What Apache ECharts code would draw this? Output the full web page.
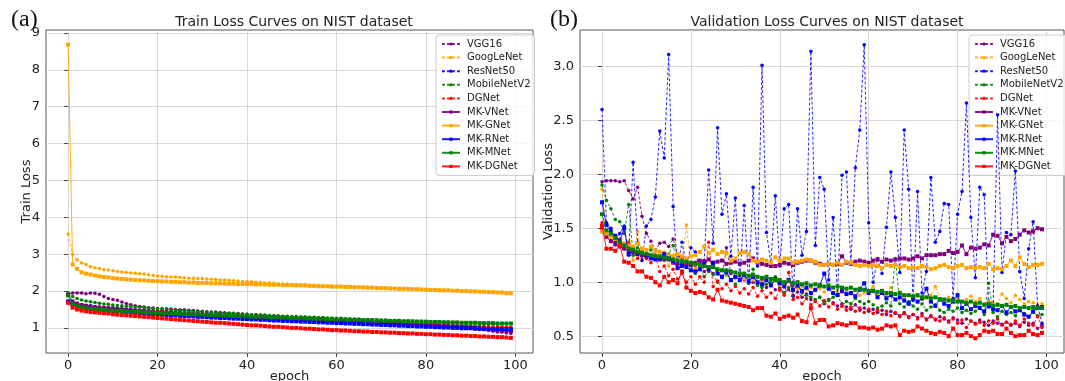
<!DOCTYPE html>
<html>
<head>
<meta charset="utf-8">
<script src="https://cdn.jsdelivr.net/npm/echarts@6/dist/echarts.min.js"></script>
<style>
  html, body { margin: 0; padding: 0; background: #fff; }
  #chart { width: 1065px; height: 381px; }
</style>
</head>
<body>
<div id="chart"></div>
<script>
const seriesNames = ['VGG16', 'GoogLeNet', 'ResNet50', 'MobileNetV2', 'DGNet',
  'MK-VNet', 'MK-GNet', 'MK-RNet', 'MK-MNet', 'MK-DGNet'];
const seriesColors = ['#800080', '#FFA500', '#0000FF', '#008000', '#FF0000',
  '#800080', '#FFA500', '#0000FF', '#008000', '#FF0000'];
const epochs = Array.from({ length: 100 }, (_, i) => i);
const xTicks = [0, 20, 40, 60, 80, 100];
const trainTicks = [1, 2, 3, 4, 5, 6, 7, 8, 9];
const valTicks = [0.5, 1.0, 1.5, 2.0, 2.5, 3.0];

// ---- train loss ----
const trainVGG16 = [
  1.92,1.95,1.95,1.95,1.93,1.95,1.94,1.91,1.85,1.80,
  1.77,1.75,1.70,1.66,1.63,1.60,1.58,1.57,1.55,1.54,
  1.53,1.52,1.52,1.51,1.50,1.49,1.49,1.48,1.47,1.46,
  1.45,1.44,1.43,1.43,1.42,1.41,1.40,1.40,1.39,1.38,
  1.37,1.36,1.36,1.35,1.34,1.33,1.33,1.32,1.31,1.30,
  1.30,1.29,1.28,1.28,1.27,1.26,1.26,1.25,1.24,1.24,
  1.23,1.22,1.22,1.21,1.20,1.20,1.19,1.18,1.18,1.17,
  1.16,1.16,1.15,1.14,1.13,1.13,1.12,1.11,1.10,1.10,
  1.09,1.08,1.07,1.06,1.05,1.04,1.03,1.02,1.01,1.00,
  0.99,0.97,0.96,0.95,0.93,0.91,0.89,0.88,0.86,0.85];
const trainGoogLeNet = [
  3.55,3.00,2.85,2.76,2.72,2.66,2.63,2.61,2.58,2.57,
  2.55,2.53,2.52,2.50,2.49,2.48,2.47,2.46,2.44,2.42,
  2.41,2.40,2.39,2.38,2.38,2.37,2.36,2.35,2.35,2.34,
  2.34,2.33,2.32,2.31,2.30,2.30,2.29,2.28,2.27,2.26,
  2.26,2.25,2.24,2.23,2.22,2.22,2.21,2.20,2.19,2.19,
  2.18,2.18,2.17,2.17,2.16,2.16,2.15,2.15,2.14,2.14,
  2.13,2.13,2.12,2.12,2.11,2.11,2.10,2.10,2.10,2.09,
  2.09,2.08,2.08,2.07,2.07,2.06,2.06,2.05,2.05,2.05,
  2.04,2.04,2.03,2.03,2.02,2.02,2.01,2.01,2.00,2.00,
  2.00,1.99,1.99,1.98,1.98,1.97,1.97,1.96,1.96,1.95];
const trainResNet50 = [
  1.72,1.70,1.66,1.63,1.61,1.60,1.58,1.57,1.56,1.55,
  1.54,1.53,1.52,1.51,1.50,1.49,1.48,1.47,1.46,1.45,
  1.44,1.43,1.43,1.42,1.41,1.40,1.40,1.39,1.38,1.38,
  1.37,1.36,1.36,1.35,1.34,1.34,1.33,1.32,1.32,1.31,
  1.31,1.30,1.29,1.29,1.28,1.28,1.27,1.27,1.26,1.26,
  1.25,1.24,1.24,1.23,1.23,1.22,1.22,1.21,1.21,1.20,
  1.20,1.19,1.19,1.18,1.18,1.17,1.17,1.16,1.16,1.15,
  1.15,1.14,1.14,1.13,1.13,1.12,1.12,1.11,1.11,1.10,
  1.10,1.09,1.09,1.08,1.08,1.07,1.07,1.06,1.06,1.05,
  1.05,1.04,1.04,1.03,1.03,1.02,1.02,1.01,1.01,1.00];
const trainMobileNetV2 = [
  1.95,1.85,1.80,1.76,1.73,1.71,1.69,1.67,1.65,1.64,
  1.62,1.61,1.60,1.59,1.58,1.57,1.56,1.55,1.54,1.53,
  1.52,1.51,1.50,1.49,1.48,1.48,1.47,1.46,1.45,1.45,
  1.44,1.43,1.42,1.42,1.41,1.40,1.40,1.39,1.38,1.38,
  1.37,1.36,1.36,1.35,1.35,1.34,1.33,1.33,1.32,1.32,
  1.31,1.31,1.30,1.30,1.29,1.29,1.28,1.28,1.27,1.27,
  1.26,1.26,1.25,1.25,1.24,1.24,1.23,1.23,1.22,1.22,
  1.21,1.21,1.20,1.20,1.20,1.19,1.19,1.18,1.18,1.18,
  1.17,1.17,1.17,1.16,1.16,1.16,1.15,1.15,1.15,1.14,
  1.14,1.14,1.13,1.13,1.13,1.13,1.12,1.12,1.12,1.12];
const trainDGNet = [
  1.70,1.66,1.62,1.59,1.57,1.55,1.54,1.53,1.52,1.51,
  1.50,1.49,1.48,1.47,1.46,1.45,1.44,1.43,1.43,1.42,
  1.41,1.40,1.39,1.39,1.38,1.37,1.36,1.36,1.35,1.34,
  1.34,1.33,1.32,1.32,1.31,1.30,1.30,1.29,1.28,1.28,
  1.27,1.27,1.26,1.25,1.25,1.24,1.24,1.23,1.23,1.22,
  1.22,1.21,1.21,1.20,1.20,1.19,1.19,1.18,1.18,1.17,
  1.17,1.16,1.16,1.15,1.15,1.14,1.14,1.14,1.13,1.13,
  1.12,1.12,1.11,1.11,1.11,1.10,1.10,1.09,1.09,1.09,
  1.08,1.08,1.07,1.07,1.07,1.06,1.06,1.06,1.05,1.05,
  1.05,1.04,1.04,1.04,1.03,1.03,1.03,1.02,1.02,1.02];
const trainMKVNet = [
  1.90,1.72,1.66,1.62,1.60,1.58,1.56,1.55,1.54,1.53,
  1.52,1.51,1.50,1.49,1.48,1.47,1.46,1.46,1.45,1.44,
  1.43,1.43,1.42,1.41,1.40,1.40,1.39,1.38,1.38,1.37,
  1.36,1.36,1.35,1.34,1.34,1.33,1.32,1.32,1.31,1.31,
  1.30,1.29,1.29,1.28,1.28,1.27,1.26,1.26,1.25,1.25,
  1.24,1.24,1.23,1.23,1.22,1.22,1.21,1.21,1.20,1.20,
  1.19,1.19,1.18,1.18,1.17,1.17,1.16,1.16,1.15,1.15,
  1.14,1.14,1.13,1.13,1.12,1.12,1.11,1.10,1.10,1.09,
  1.09,1.08,1.07,1.07,1.06,1.05,1.04,1.03,1.02,1.01,
  1.00,0.99,0.98,0.97,0.96,0.95,0.94,0.93,0.92,0.91];
const trainMKGNet = [
  8.68,2.72,2.60,2.51,2.47,2.45,2.42,2.40,2.38,2.37,
  2.35,2.34,2.33,2.32,2.31,2.30,2.29,2.29,2.28,2.27,
  2.27,2.26,2.26,2.25,2.25,2.24,2.24,2.23,2.23,2.22,
  2.22,2.22,2.21,2.21,2.21,2.20,2.20,2.20,2.19,2.19,
  2.19,2.19,2.18,2.18,2.18,2.17,2.17,2.17,2.16,2.16,
  2.16,2.15,2.15,2.15,2.14,2.14,2.13,2.13,2.13,2.12,
  2.12,2.12,2.11,2.11,2.10,2.10,2.10,2.09,2.09,2.08,
  2.08,2.08,2.07,2.07,2.06,2.06,2.06,2.05,2.05,2.04,
  2.04,2.03,2.03,2.02,2.02,2.02,2.01,2.01,2.00,2.00,
  1.99,1.99,1.98,1.98,1.97,1.97,1.96,1.96,1.94,1.94];
const trainMKRNet = [
  1.72,1.62,1.58,1.55,1.53,1.51,1.50,1.49,1.48,1.47,
  1.46,1.45,1.44,1.43,1.42,1.41,1.40,1.39,1.38,1.37,
  1.37,1.36,1.35,1.34,1.34,1.33,1.32,1.32,1.31,1.30,
  1.30,1.29,1.28,1.28,1.27,1.27,1.26,1.25,1.25,1.24,
  1.24,1.23,1.23,1.22,1.22,1.21,1.20,1.20,1.19,1.19,
  1.18,1.18,1.17,1.17,1.16,1.16,1.15,1.15,1.14,1.14,
  1.13,1.13,1.12,1.12,1.11,1.11,1.10,1.10,1.09,1.09,
  1.08,1.08,1.07,1.07,1.06,1.06,1.05,1.05,1.04,1.04,
  1.03,1.03,1.02,1.02,1.01,1.01,1.00,1.00,0.99,0.99,
  0.99,0.98,0.98,0.98,0.97,0.97,0.97,0.96,0.96,0.96];
const trainMKMNet = [
  1.88,1.65,1.59,1.56,1.54,1.52,1.51,1.50,1.49,1.48,
  1.47,1.46,1.46,1.45,1.44,1.44,1.43,1.42,1.42,1.41,
  1.41,1.40,1.40,1.39,1.39,1.38,1.38,1.37,1.37,1.36,
  1.36,1.35,1.35,1.34,1.34,1.33,1.33,1.33,1.32,1.32,
  1.31,1.31,1.30,1.30,1.30,1.29,1.29,1.28,1.28,1.28,
  1.27,1.27,1.26,1.26,1.26,1.25,1.25,1.25,1.24,1.24,
  1.23,1.23,1.23,1.22,1.22,1.22,1.21,1.21,1.21,1.20,
  1.20,1.20,1.19,1.19,1.19,1.18,1.18,1.18,1.17,1.17,
  1.17,1.16,1.16,1.16,1.15,1.15,1.15,1.15,1.14,1.14,
  1.14,1.14,1.13,1.13,1.13,1.13,1.12,1.12,1.12,1.12];
const trainMKDGNet = [
  1.68,1.55,1.50,1.47,1.45,1.43,1.42,1.41,1.40,1.39,
  1.37,1.36,1.35,1.34,1.33,1.32,1.31,1.30,1.29,1.28,
  1.27,1.26,1.25,1.24,1.23,1.22,1.21,1.20,1.19,1.18,
  1.17,1.16,1.15,1.14,1.14,1.13,1.12,1.11,1.10,1.09,
  1.08,1.07,1.07,1.06,1.05,1.04,1.03,1.03,1.02,1.01,
  1.00,1.00,0.99,0.98,0.98,0.97,0.96,0.96,0.95,0.94,
  0.94,0.93,0.93,0.92,0.91,0.91,0.90,0.90,0.89,0.89,
  0.88,0.88,0.87,0.87,0.86,0.86,0.85,0.85,0.84,0.84,
  0.83,0.83,0.82,0.82,0.81,0.81,0.80,0.80,0.79,0.79,
  0.78,0.78,0.77,0.77,0.76,0.76,0.75,0.75,0.74,0.73];

// ---- validation loss ----
const valVGG16 = [
  1.93,1.94,1.94,1.94,1.93,1.94,1.85,1.77,1.88,1.61,
  1.45,1.38,1.30,1.36,1.37,1.33,1.40,1.25,1.22,1.20,
  1.18,1.14,1.19,1.10,1.13,1.08,1.11,1.05,1.32,1.08,
  1.04,1.06,1.02,1.05,1.00,0.98,1.02,0.95,0.97,0.93,
  0.95,0.90,0.93,0.88,0.91,0.86,0.89,0.84,0.83,0.86,
  0.80,0.84,0.81,0.78,0.80,0.77,0.75,0.79,0.74,0.76,
  0.73,0.75,0.72,0.74,0.70,0.73,0.71,0.69,0.72,0.68,
  0.70,0.67,0.71,0.66,0.69,0.65,0.68,0.66,0.64,0.67,
  0.65,0.62,0.66,0.64,0.62,0.65,0.63,0.60,0.64,0.62,
  0.61,0.63,0.60,0.62,0.59,0.63,0.60,0.62,0.57,0.60];
const valGoogLeNet = [
  1.86,1.45,1.40,1.37,1.45,1.35,1.38,1.20,1.47,1.22,
  1.28,1.25,1.30,1.22,1.28,1.15,1.25,1.22,1.18,1.53,
  1.15,1.13,1.20,1.18,1.12,1.15,1.08,1.12,1.06,1.10,
  1.05,1.08,1.03,1.06,1.02,1.04,1.00,1.03,0.98,1.01,
  0.97,0.99,0.95,0.97,0.94,0.96,0.93,0.95,0.92,0.94,
  0.91,0.93,0.90,0.92,0.90,0.91,0.89,0.92,0.88,0.90,
  0.92,0.96,0.88,0.90,0.87,0.95,0.89,0.91,0.86,0.88,
  0.85,0.87,0.84,0.86,0.88,0.96,0.85,0.83,0.86,0.84,
  0.85,0.82,0.84,0.87,0.82,0.85,0.80,0.83,0.81,0.80,
  0.89,0.85,0.81,0.88,0.84,0.80,0.82,0.81,0.79,0.80];
const valResNet50 = [
  2.60,1.55,1.50,1.38,1.45,1.52,1.25,2.11,1.37,1.20,
  1.52,1.58,1.79,2.40,2.15,3.11,1.70,1.13,1.37,1.16,
  1.32,1.28,1.12,1.20,2.04,1.36,2.43,1.63,1.82,1.24,
  1.78,1.02,1.71,0.99,1.88,1.15,3.01,1.46,1.18,1.80,
  1.15,1.68,1.72,0.87,1.68,1.25,1.47,3.14,1.34,1.97,
  1.86,1.02,1.60,0.88,1.99,2.02,1.17,2.06,2.41,3.20,
  1.55,1.00,1.22,1.08,1.51,2.02,1.60,1.09,2.41,1.86,
  0.83,1.84,0.90,1.10,1.97,1.37,1.47,1.73,1.72,0.85,
  1.63,1.84,2.66,1.60,1.04,1.88,1.81,0.77,0.76,2.55,
  1.09,1.46,1.44,2.03,1.10,0.85,1.31,1.56,0.78,0.62];
const valMobileNetV2 = [
  1.90,1.76,1.68,1.58,1.56,1.45,1.72,1.25,1.32,1.28,
  1.22,1.30,1.25,1.22,1.20,1.26,1.34,1.18,1.15,1.20,
  1.15,1.08,1.12,1.05,1.10,1.07,1.00,1.04,1.08,1.02,
  0.98,1.03,1.06,1.00,1.12,0.97,0.95,0.98,1.00,1.05,
  0.93,0.90,0.95,0.92,0.97,0.90,0.88,0.86,0.84,0.86,
  0.81,0.83,0.86,0.89,0.78,0.82,0.80,0.85,0.82,0.80,
  0.82,0.79,0.76,0.78,0.81,0.78,1.22,0.80,0.77,0.82,
  0.78,0.75,0.80,0.74,0.77,0.79,0.74,0.72,0.75,0.73,
  0.76,0.72,0.74,0.71,0.73,0.77,0.70,0.99,0.72,0.68,
  0.73,0.70,0.72,0.69,0.74,0.71,0.68,0.72,0.69,0.70];
const valDGNet = [
  1.55,1.42,1.38,1.35,1.40,1.33,1.36,1.28,1.22,1.30,
  1.22,1.18,1.25,1.10,1.15,1.06,1.12,1.03,1.08,1.00,
  1.05,0.98,1.05,1.00,1.37,0.96,1.01,0.94,0.98,0.92,
  0.96,0.90,0.94,0.89,0.95,0.87,0.92,0.86,0.90,0.85,
  0.93,0.88,1.09,0.84,0.86,0.80,0.85,0.79,0.82,0.78,
  0.83,0.77,0.80,0.75,0.78,0.74,0.77,0.73,0.76,0.72,
  0.75,0.71,0.74,0.70,0.73,0.69,0.72,0.68,0.71,0.67,
  0.70,0.66,0.69,0.65,0.68,0.66,0.64,0.67,0.63,0.66,
  0.62,0.65,0.58,0.64,0.61,0.63,0.60,0.64,0.62,0.66,
  0.60,0.63,0.61,0.64,0.60,0.66,0.62,0.60,0.68,0.58];
const valMKVNet = [
  1.48,1.42,1.38,1.35,1.33,1.31,1.29,1.28,1.27,1.25,
  1.24,1.23,1.22,1.21,1.22,1.21,1.18,1.17,1.16,1.17,
  1.16,1.18,1.20,1.19,1.21,1.18,1.19,1.20,1.17,1.18,
  1.19,1.17,1.18,1.20,1.22,1.18,1.17,1.16,1.15,1.15,
  1.16,1.18,1.17,1.16,1.18,1.19,1.20,1.20,1.18,1.17,
  1.16,1.17,1.16,1.17,1.24,1.18,1.17,1.19,1.20,1.19,
  1.18,1.20,1.21,1.19,1.21,1.20,1.21,1.22,1.22,1.21,
  1.22,1.24,1.22,1.25,1.25,1.25,1.26,1.26,1.29,1.27,
  1.28,1.34,1.26,1.32,1.31,1.32,1.35,1.34,1.44,1.43,
  1.36,1.42,1.38,1.40,1.44,1.48,1.46,1.47,1.50,1.49];
const valMKGNet = [
  1.47,1.45,1.43,1.40,1.38,1.36,1.34,1.33,1.36,1.31,
  1.30,1.33,1.29,1.28,1.27,1.25,1.24,1.26,1.24,1.22,
  1.24,1.25,1.28,1.33,1.27,1.30,1.26,1.28,1.27,1.20,
  1.22,1.27,1.28,1.26,1.20,1.19,1.21,1.20,1.18,1.23,
  1.20,1.22,1.22,1.18,1.19,1.20,1.21,1.20,1.19,1.16,
  1.16,1.17,1.16,1.18,1.16,1.19,1.18,1.16,1.15,1.16,
  1.15,1.16,1.15,1.13,1.16,1.15,1.16,1.14,1.15,1.13,
  1.14,1.13,1.15,1.14,1.12,1.13,1.15,1.16,1.14,1.13,
  1.15,1.16,1.13,1.14,1.13,1.14,1.13,1.17,1.12,1.13,
  1.12,1.15,1.20,1.15,1.23,1.17,1.14,1.16,1.16,1.17];
const valMKRNet = [
  1.74,1.53,1.47,1.43,1.38,1.50,1.26,1.30,1.26,1.27,
  1.25,1.22,1.21,1.22,1.26,1.22,1.20,1.13,1.15,1.14,
  1.11,1.10,1.12,1.17,1.12,1.18,1.08,1.05,1.10,1.02,
  1.05,1.02,1.07,1.01,1.05,1.00,0.98,1.02,0.97,1.03,
  0.99,0.96,1.02,0.93,0.97,0.92,0.95,0.90,0.93,0.97,
  1.08,0.94,0.90,0.88,0.92,0.89,0.90,0.87,0.93,0.99,
  0.90,0.92,0.86,0.90,0.85,0.88,0.84,0.86,0.83,0.80,
  0.86,0.82,0.85,0.94,0.82,0.78,0.84,0.80,0.78,0.82,
  0.88,0.76,0.80,0.75,0.78,0.76,0.73,0.79,0.75,0.74,
  0.78,0.72,0.77,0.73,0.74,0.70,0.68,0.73,0.76,0.77];
const valMKMNet = [
  1.63,1.48,1.45,1.41,1.37,1.34,1.31,1.30,1.28,1.27,
  1.26,1.25,1.24,1.24,1.23,1.22,1.21,1.20,1.19,1.19,
  1.18,1.17,1.16,1.15,1.14,1.14,1.12,1.11,1.11,1.10,
  1.09,1.08,1.08,1.06,1.07,1.05,1.04,1.05,1.03,1.02,
  1.02,1.00,1.01,0.99,1.00,0.98,0.99,0.97,0.98,0.97,
  0.96,0.97,0.95,0.96,0.95,0.94,0.95,0.93,0.94,0.93,
  0.92,0.92,0.91,0.92,0.90,0.90,0.89,0.90,0.88,0.88,
  0.87,0.88,0.86,0.86,0.85,0.86,0.84,0.84,0.83,0.83,
  0.82,0.82,0.81,0.82,0.80,0.81,0.79,0.80,0.78,0.79,
  0.78,0.79,0.77,0.78,0.76,0.77,0.76,0.77,0.76,0.76];
const valMKDGNet = [
  1.52,1.31,1.31,1.29,1.34,1.19,1.18,1.15,1.10,1.10,
  1.05,1.04,1.00,0.97,1.05,1.00,1.02,0.99,1.10,0.95,
  0.92,0.90,0.91,0.90,0.86,0.84,0.93,0.83,0.82,0.81,
  0.80,0.79,0.78,0.77,0.74,0.76,0.76,0.69,0.68,0.71,
  0.66,0.68,0.69,0.67,0.70,0.64,0.63,0.76,0.62,0.65,
  0.65,0.59,0.60,0.62,0.61,0.60,0.62,0.62,0.58,0.58,
  0.57,0.58,0.56,0.57,0.60,0.59,0.60,0.51,0.55,0.54,
  0.55,0.59,0.57,0.55,0.53,0.52,0.54,0.53,0.50,0.57,
  0.51,0.51,0.53,0.50,0.48,0.51,0.55,0.54,0.55,0.52,
  0.52,0.57,0.53,0.50,0.51,0.51,0.55,0.52,0.51,0.53];

const trainData = [trainVGG16, trainGoogLeNet, trainResNet50, trainMobileNetV2, trainDGNet,
  trainMKVNet, trainMKGNet, trainMKRNet, trainMKMNet, trainMKDGNet];
const valData = [valVGG16, valGoogLeNet, valResNet50, valMobileNetV2, valDGNet,
  valMKVNet, valMKGNet, valMKRNet, valMKMNet, valMKDGNet];

const FONT = 'DejaVu Sans';

function buildSeries(values, idx, gridIdx) {
  const dashed = idx < 5;
  return {
    name: seriesNames[idx],
    type: 'line',
    xAxisIndex: gridIdx,
    yAxisIndex: gridIdx,
    data: values.map((v, i) => [epochs[i], v]),
    symbol: dashed ? 'circle' : 'rect',
    symbolSize: dashed ? 3.5 : 4,
    showSymbol: true,
    color: seriesColors[idx],
    lineStyle: { width: 1, type: dashed ? [3, 2] : 'solid', opacity: dashed ? 0.85 : 0.9 },
    itemStyle: { color: seriesColors[idx] },
    emphasis: { disabled: true },
    z: 2 + idx
  };
}

function xAxis(gridIdx) {
  return {
    type: 'value',
    gridIndex: gridIdx,
    min: -4.95,
    max: 103.95,
    name: 'epoch',
    nameLocation: 'middle',
    nameGap: 17,
    nameMoveOverlap: false,
    nameTextStyle: { fontFamily: FONT, fontSize: 13, color: '#222' },
    axisLine: { show: false },
    axisTick: { show: true, length: 4, inside: false, customValues: xTicks, lineStyle: { color: '#444' } },
    axisLabel: { customValues: xTicks, fontFamily: FONT, fontSize: 13, color: '#222', margin: 6 },
    splitLine: { show: true, lineStyle: { color: '#d8d8d8', width: 1 } }
  };
}

function yAxis(gridIdx, min, max, ticks, name, gap, fmt) {
  return {
    type: 'value',
    gridIndex: gridIdx,
    min: min,
    max: max,
    name: name,
    nameLocation: 'middle',
    nameGap: gap,
    nameMoveOverlap: false,
    nameTextStyle: { fontFamily: FONT, fontSize: 13, color: '#222' },
    axisLine: { show: false },
    axisTick: { show: true, length: 4, customValues: ticks, lineStyle: { color: '#444' } },
    axisLabel: { customValues: ticks, fontFamily: FONT, fontSize: 13, color: '#222', margin: 6,
      formatter: fmt },
    splitLine: { show: true, lineStyle: { color: '#d8d8d8', width: 1 } }
  };
}

function legend(left) {
  return {
    data: seriesNames,
    orient: 'vertical',
    left: left,
    top: 35,
    itemGap: 3.6,
    itemWidth: 18,
    itemHeight: 4,
    padding: [4, 4, 4, 5],
    backgroundColor: 'rgba(255,255,255,0.8)',
    borderColor: '#ccc',
    borderWidth: 1,
    borderRadius: 3,
    textStyle: { fontFamily: FONT, fontSize: 10, lineHeight: 10, color: '#222', padding: [0, 0, 0, 2] },
    selectedMode: false
  };
}

const chart = echarts.init(document.getElementById('chart'), null, { renderer: 'canvas' });

const series = [];
trainData.forEach((d, i) => series.push(buildSeries(d, i, 0)));
valData.forEach((d, i) => series.push(buildSeries(d, i, 1)));

chart.setOption({
  animation: false,
  backgroundColor: '#fff',
  title: [
    { text: 'Train Loss Curves on NIST dataset', left: 289, top: 10, textAlign: 'center',
      textStyle: { fontFamily: FONT, fontSize: 14, fontWeight: 'normal', color: '#222' } },
    { text: 'Validation Loss Curves on NIST dataset', left: 822, top: 10, textAlign: 'center',
      textStyle: { fontFamily: FONT, fontSize: 14, fontWeight: 'normal', color: '#222' } },
    { text: '(a)', left: 6, top: 3,
      textStyle: { fontFamily: 'Liberation Serif', fontSize: 24, fontWeight: 'normal', color: '#111' } },
    { text: '(b)', left: 545, top: 3,
      textStyle: { fontFamily: 'Liberation Serif', fontSize: 24, fontWeight: 'normal', color: '#111' } }
  ],
  legend: [legend(436), legend(969)],
  grid: [
    { left: 46, top: 30, width: 487, height: 323, show: true, borderColor: '#555', borderWidth: 1,
      backgroundColor: 'transparent', outerBoundsMode: 'none', containLabel: false },
    { left: 580, top: 30, width: 484, height: 323, show: true, borderColor: '#555', borderWidth: 1,
      backgroundColor: 'transparent', outerBoundsMode: 'none', containLabel: false }
  ],
  xAxis: [xAxis(0), xAxis(1)],
  yAxis: [
    yAxis(0, 0.32, 9.08, trainTicks, 'Train Loss', 13, v => String(v)),
    yAxis(1, 0.344, 3.336, valTicks, 'Validation Loss', 25, v => v.toFixed(1))
  ],
  series: series
});
</script>
</body>
</html>
